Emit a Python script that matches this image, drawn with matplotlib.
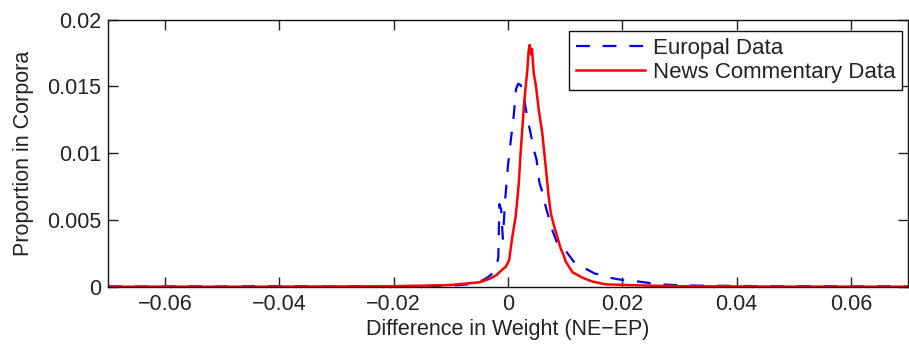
import numpy as np
import matplotlib.pyplot as plt
from matplotlib.ticker import FixedLocator, FixedFormatter

plt.rcParams['font.family'] = ['Liberation Sans', 'DejaVu Sans']

# Europal data (dashed blue)
ep_x = [-0.07, -0.065, -0.06, -0.055, -0.05, -0.045, -0.04, -0.035, -0.03, -0.025,
        -0.02, -0.015, -0.01, -0.007, -0.005, -0.004, -0.003, -0.0025, -0.002, -0.0017,
        -0.0015, -0.0012, -0.0009, -0.0005, 0.0, 0.0005, 0.001, 0.0014, 0.0018, 0.0022,
        0.0026, 0.003, 0.0035, 0.004, 0.0045, 0.005, 0.0055, 0.006, 0.0066, 0.0072,
        0.0078, 0.0085, 0.009, 0.0095, 0.0101, 0.0108, 0.0115, 0.0125, 0.0139, 0.0152,
        0.0165, 0.0177, 0.019, 0.0204, 0.023, 0.0265, 0.029, 0.033, 0.04, 0.045,
        0.05, 0.055, 0.06, 0.065, 0.07]
ep_y = [0.00005, 0.00003, 0.00004, 0.00005, 0.00003, 0.00006, 0.00005, 0.00006, 0.00005, 0.00007,
        0.00006, 0.00008, 0.0001, 0.0002, 0.0004, 0.0006, 0.0009, 0.0012, 0.0016, 0.0022,
        0.0062, 0.0058, 0.0036, 0.0065, 0.0091, 0.0110, 0.0128, 0.0148, 0.0152, 0.0151,
        0.0146, 0.0136, 0.0124, 0.0114, 0.0103, 0.0095, 0.0078, 0.0071, 0.0060, 0.0051,
        0.0042, 0.0034, 0.0031, 0.0029, 0.0027, 0.0023, 0.0019, 0.0016, 0.0013, 0.0010,
        0.0009, 0.0007, 0.0006, 0.0005, 0.0004, 0.0002, 0.00015, 0.0001, 0.00008, 0.00006,
        0.00005, 0.00006, 0.00004, 0.00005, 0.00004]

# News Commentary data (solid red)
nc_x = [-0.07, -0.06, -0.05, -0.04, -0.03, -0.02, -0.015, -0.01, -0.0063, -0.005,
        -0.0033, -0.0028, -0.002, -0.001, -0.0004, 0.0002, 0.0007, 0.00135, 0.0019, 0.0022,
        0.0028, 0.0031, 0.0034, 0.0036, 0.0038, 0.004, 0.0042, 0.0045, 0.0049, 0.0054,
        0.006, 0.0066, 0.0071, 0.0075, 0.0081, 0.0086, 0.0092, 0.0098, 0.0101, 0.0107,
        0.0113, 0.013, 0.0148, 0.0171, 0.0206, 0.025, 0.03, 0.04, 0.05, 0.06, 0.07]
nc_y = [0.00002, 0.00003, 0.00002, 0.00003, 0.00004, 0.00006, 0.0001, 0.00015, 0.0003, 0.00035,
        0.0006, 0.0007, 0.0009, 0.0013, 0.0015, 0.0020, 0.0036, 0.0053, 0.0078, 0.0100,
        0.0136, 0.0150, 0.0163, 0.0176, 0.0181, 0.0174, 0.0178, 0.0160, 0.0150, 0.0132,
        0.0115, 0.0090, 0.0068, 0.0055, 0.0045, 0.0038, 0.0029, 0.0023, 0.0019, 0.0015,
        0.0011, 0.0007, 0.0004, 0.0002, 0.00015, 0.0001, 0.00006, 0.00004, 0.00003, 0.00003, 0.00002]

x_ticks = [-0.06, -0.04, -0.02, 0, 0.02, 0.04, 0.06]
x_labels = ['\u22120.06', '\u22120.04', '\u22120.02', '0', '0.02', '0.04', '0.06']
y_ticks = [0, 0.005, 0.01, 0.015, 0.02]
y_labels = ['0', '0.005', '0.01', '0.015', '0.02']

fs = 15.5

fig = plt.figure(figsize=(9.09, 3.44), dpi=100)
ax = fig.add_axes([108 / 909, 57 / 344, 800 / 909, 267.5 / 344])

ax.plot(ep_x, ep_y, color='#0000ff', lw=1.6, ls='--', dashes=(6.2, 5.8), label='Europal Data')
ax.plot(nc_x, nc_y, color='#ff0000', lw=1.8, label='News Commentary Data')

ax.set_xlim(-0.07, 0.07)
ax.set_ylim(0, 0.02)
ax.xaxis.set_major_locator(FixedLocator(x_ticks))
ax.xaxis.set_major_formatter(FixedFormatter(x_labels))
ax.yaxis.set_major_locator(FixedLocator(y_ticks))
ax.yaxis.set_major_formatter(FixedFormatter(y_labels))
ax.tick_params(direction='in', length=7, width=1, top=True, right=True,
               labelsize=fs, colors='#222222', pad=5)
for s in ax.spines.values():
    s.set_linewidth(1)
    s.set_color('#111111')

ax.set_xlabel('Difference in Weight (NE\u2212EP)', fontsize=fs, color='#222222', labelpad=3)
ax.set_ylabel('Proportion in Corpora', fontsize=fs, color='#222222', labelpad=9)

leg = ax.legend(loc='upper right', bbox_to_anchor=(0.9925, 0.957), borderaxespad=0,
                fontsize=16, handlelength=3.1, handletextpad=0.35, borderpad=0.3,
                labelspacing=0.15, fancybox=False, framealpha=1)
leg.get_frame().set_edgecolor('#111111')
leg.get_frame().set_linewidth(1)
for t in leg.get_texts():
    t.set_color('#222222')

fig.savefig('out.png', dpi=100)
